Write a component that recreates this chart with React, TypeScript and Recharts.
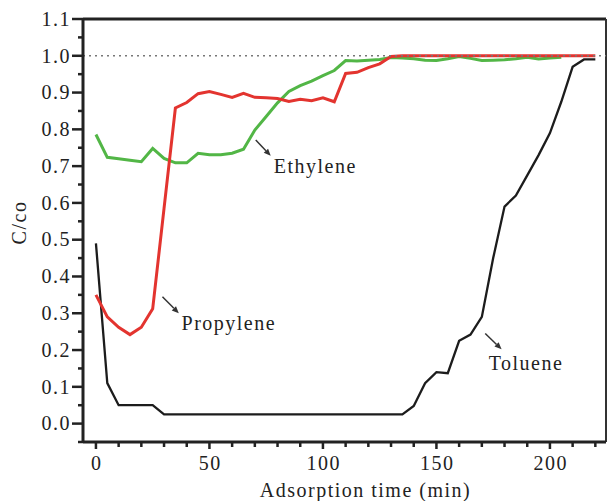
import { LineChart, Line, XAxis, YAxis, ReferenceLine, ReferenceDot } from 'recharts'

// adsorption time (min), one reading every 5 min
const TIME = [
  0, 5, 10, 15, 20, 25, 30, 35, 40, 45, 50, 55, 60, 65, 70, 75, 80, 85, 90, 95, 100, 105, 110,
  115, 120, 125, 130, 135, 140, 145, 150, 155, 160, 165, 170, 175, 180, 185, 190, 195, 200, 205,
  210, 215, 220,
]

const TOLUENE = [
  0.49, 0.11, 0.05, 0.05, 0.05, 0.05, 0.025, 0.025, 0.025, 0.025, 0.025, 0.025, 0.025, 0.025,
  0.025, 0.025, 0.025, 0.025, 0.025, 0.025, 0.025, 0.025, 0.025, 0.025, 0.025, 0.025, 0.025,
  0.025, 0.048, 0.11, 0.14, 0.137, 0.225, 0.242, 0.29, 0.45, 0.59, 0.62, 0.675, 0.73, 0.79,
  0.875, 0.97, 0.99, 0.99,
]

const PROPYLENE = [
  0.35, 0.29, 0.262, 0.242, 0.262, 0.312, 0.585, 0.858, 0.873, 0.897, 0.903, 0.895, 0.887,
  0.898, 0.887, 0.886, 0.884, 0.876, 0.882, 0.878, 0.886, 0.875, 0.952, 0.955, 0.968, 0.978,
  0.998, 1.0, 1.0, 1.0, 1.0, 1.0, 1.0, 1.0, 1.0, 1.0, 1.0, 1.0, 1.0, 1.0, 1.0, 1.0, 1.0, 1.0,
  1.0,
]

const ETHYLENE = [
  0.786, 0.724, 0.72, 0.716, 0.712, 0.748, 0.721, 0.709, 0.709, 0.735, 0.731, 0.731, 0.735,
  0.746, 0.798, 0.835, 0.872, 0.903, 0.919, 0.931, 0.946, 0.96, 0.987, 0.986, 0.988, 0.99,
  0.995, 0.994, 0.992, 0.988, 0.987, 0.992, 0.998, 0.993, 0.987, 0.988, 0.989, 0.992, 0.996,
  0.991, 0.994, 0.996, null, null, null,
]

const X_TICKS = [
  0, 10, 20, 30, 40, 50, 60, 70, 80, 90, 100, 110, 120, 130, 140, 150, 160, 170, 180, 190, 200,
  210, 220,
]
const X_LABELS = [0, 50, 100, 150, 200]

const Y_MAJOR = [0, 0.1, 0.2, 0.3, 0.4, 0.5, 0.6, 0.7, 0.8, 0.9, 1.0, 1.1]
const Y_MINOR = [-0.05, 0.05, 0.15, 0.25, 0.35, 0.45, 0.55, 0.65, 0.75, 0.85, 0.95, 1.05]

// curve labels with their pointer arrows, in data units
const ANNOTATIONS = [
  { name: 'Ethylene', x: 78.3, y: 0.681, from: [70.4, 0.771], to: [77.0, 0.728] },
  { name: 'Propylene', x: 37.7, y: 0.254, from: [29.3, 0.345], to: [36.5, 0.3] },
  { name: 'Toluene', x: 173.0, y: 0.147, from: [171.5, 0.245], to: [178.7, 0.202] },
]

const data = TIME.map((t, i) => ({
  t,
  toluene: TOLUENE[i],
  propylene: PROPYLENE[i],
  ethylene: ETHYLENE[i],
}))

const FONT = '"Liberation Serif", "Times New Roman", serif'
const INK = '#222'

const isOneOf = (list: number[], v: number) => list.some((m) => Math.abs(m - v) < 1e-6)

const YTick = ({ x, y, payload }: any) => {
  const major = isOneOf(Y_MAJOR, payload.value)
  return (
    <g>
      <line x1={x - (major ? 11 : 5)} x2={x} y1={y} y2={y} stroke={INK} strokeWidth={2.5} />
      {major && (
        <text
          x={x - 12}
          y={y}
          dy={6.8}
          textAnchor="end"
          fontFamily={FONT}
          fontSize={20}
          letterSpacing={1.5}
          fill={INK}
        >
          {payload.value.toFixed(1)}
        </text>
      )}
    </g>
  )
}

const XTick = ({ x, y, payload }: any) => {
  const major = isOneOf(X_LABELS, payload.value)
  return (
    <g>
      <line x1={x} x2={x} y1={y} y2={y + (major ? 7 : 5)} stroke={INK} strokeWidth={2.5} />
      {major && (
        <text
          x={x + 0.75}
          y={y + 28}
          textAnchor="middle"
          fontFamily={FONT}
          fontSize={20}
          letterSpacing={1.5}
          fill={INK}
        >
          {payload.value}
        </text>
      )}
    </g>
  )
}

const Arrow = ({ x1, y1, x2, y2 }: any) => {
  const a = Math.atan2(y2 - y1, x2 - x1)
  const len = 7
  const w = 3
  const bx = x2 - len * Math.cos(a)
  const by = y2 - len * Math.sin(a)
  const pts = [
    [x2, y2],
    [bx + w * Math.sin(a), by - w * Math.cos(a)],
    [bx - w * Math.sin(a), by + w * Math.cos(a)],
  ]
  return (
    <g>
      <line x1={x1} y1={y1} x2={bx} y2={by} stroke="#333" strokeWidth={1.5} />
      <polygon points={pts.map((p) => p.join(',')).join(' ')} fill="#333" />
    </g>
  )
}

const App = () => {
  return (
    <div style={{ position: 'absolute', left: 0, top: 0, background: '#fff' }}>
      <LineChart width={607} height={501} data={data} margin={{ top: 19, right: 1, bottom: 0, left: 0 }}>
        <XAxis
          dataKey="t"
          type="number"
          domain={[-5.7, 224.7]}
          allowDataOverflow
          ticks={X_TICKS}
          interval={0}
          tickSize={0}
          tickMargin={0}
          tickLine={false}
          tick={<XTick />}
          height={59}
          axisLine={{ stroke: INK, strokeWidth: 3 }}
          label={{
            content: ({ viewBox }: any) => (
              <text
                x={viewBox.x + viewBox.width / 2 + 21}
                y={viewBox.y + viewBox.height - 4}
                textAnchor="middle"
                fontFamily={FONT}
                fontSize={20}
                letterSpacing={1.5}
                fill={INK}
              >
                Adsorption time (min)
              </text>
            ),
          }}
        />
        <YAxis
          type="number"
          domain={[-0.05, 1.1]}
          allowDataOverflow
          ticks={[...Y_MINOR, ...Y_MAJOR].sort((a, b) => a - b)}
          interval={0}
          tickSize={0}
          tickMargin={0}
          tickLine={false}
          tick={<YTick />}
          width={83}
          axisLine={{ stroke: INK, strokeWidth: 3 }}
          label={{
            content: ({ viewBox }: any) => {
              const cx = 19
              const cy = viewBox.y + viewBox.height / 2 - 8
              return (
                <text
                  x={cx}
                  y={cy}
                  transform={`rotate(-90 ${cx} ${cy})`}
                  textAnchor="middle"
                  dominantBaseline="central"
                  fontFamily={FONT}
                  fontSize={20}
                  letterSpacing={1.5}
                  fill={INK}
                >
                  C/co
                </text>
              )
            },
          }}
        />
        <ReferenceLine y={1.1} stroke={INK} strokeWidth={3} />
        <ReferenceLine x={224.7} stroke="#333" strokeWidth={2} />
        <Line
          dataKey="toluene"
          type="linear"
          stroke="#1c1c1c"
          strokeWidth={2.3}
          dot={false}
          isAnimationActive={false}
        />
        <Line
          dataKey="ethylene"
          type="linear"
          stroke="#52b646"
          strokeWidth={3}
          dot={false}
          isAnimationActive={false}
        />
        <Line
          dataKey="propylene"
          type="linear"
          stroke="#e3342f"
          strokeWidth={3}
          dot={false}
          isAnimationActive={false}
        />
        <ReferenceLine y={1} stroke="#777" strokeWidth={1.5} strokeDasharray="2 4" />
        {ANNOTATIONS.map((a) => (
          <ReferenceLine
            key={`arrow-${a.name}`}
            segment={[
              { x: a.from[0], y: a.from[1] },
              { x: a.to[0], y: a.to[1] },
            ]}
            shape={(p: any) => <Arrow {...p} />}
          />
        ))}
        {ANNOTATIONS.map((a) => (
          <ReferenceDot
            key={`label-${a.name}`}
            x={a.x}
            y={a.y}
            r={0}
            shape={(p: any) => (
              <text
                x={p.cx}
                y={p.cy}
                fontFamily={FONT}
                fontSize={20}
                letterSpacing={1.5}
                fill={INK}
              >
                {a.name}
              </text>
            )}
          />
        ))}
      </LineChart>
    </div>
  )
}

export default App
